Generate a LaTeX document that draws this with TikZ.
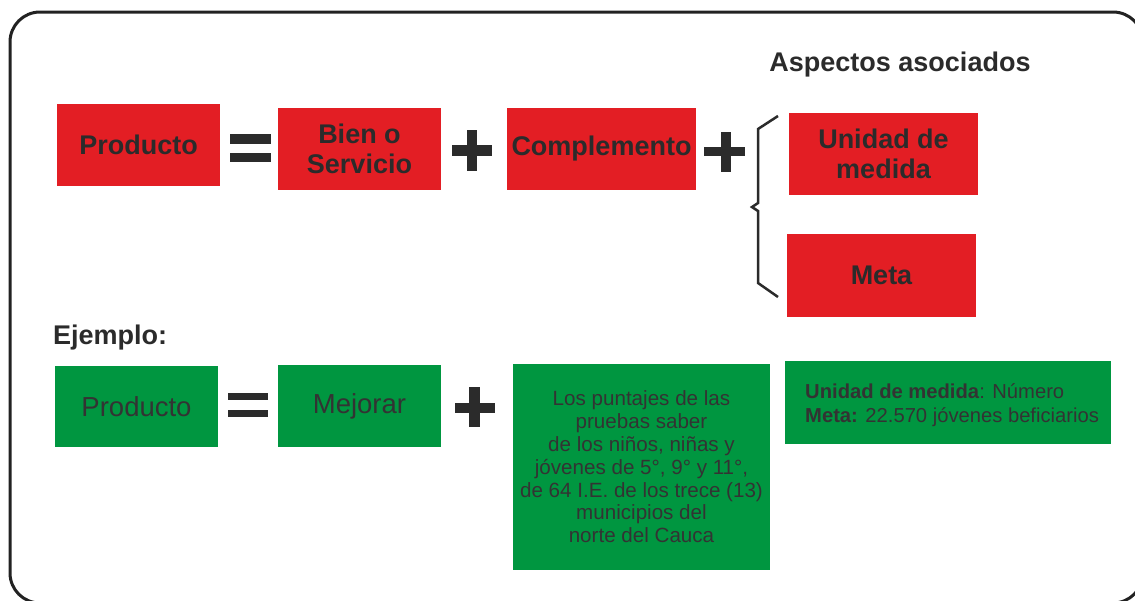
\documentclass[tikz,border=0pt]{standalone}
\usepackage{fontspec}
\setmainfont{Liberation Sans}
\definecolor{boxred}{HTML}{E31E24}
\definecolor{boxgreen}{HTML}{009640}
\definecolor{txt}{HTML}{2B2B2B}
\definecolor{gtxt}{HTML}{333333}
\definecolor{frame}{HTML}{222222}
\tikzset{
  redbox/.style={rectangle, fill=boxred, inner sep=0pt, align=center, text=txt,
    font=\bfseries\fontsize{27}{30}\selectfont},
  greenbox/.style={rectangle, fill=boxgreen, inner sep=0pt, align=center, text=gtxt,
    font=\fontsize{27.5}{30}\selectfont},
  sym/.style={fill=txt},
  label/.style={text=txt, inner sep=0pt, font=\bfseries\fontsize{27}{30}\selectfont}
}
\begin{document}
\begin{tikzpicture}[x=1pt,y=-1pt]
\useasboundingbox (0,0) rectangle (1135,600);
\fill[white] (0,0) rectangle (1135,600);
\begin{scope}
\clip (0,0) rectangle (1135,600);
\draw[frame, line width=3pt, rounded corners=30pt] (10,12) rectangle (1143,603);
\end{scope}

% top row
\node[redbox, minimum width=163pt, minimum height=82pt] (prod) at (138.5,145) {Producto};
\node[redbox, minimum width=163pt, minimum height=82pt] (bien) at (359.5,149) {Bien o\\Servicio};
\node[redbox, minimum width=189pt, minimum height=82pt] (comp) at (601.5,149) {Complemento};
\node[redbox, minimum width=189pt, minimum height=82pt] (unid) at (883.5,154) {Unidad de\\medida};
\node[redbox, minimum width=189pt, minimum height=83pt] (meta) at (881.5,275.5) {Meta};
\node[label] (asp) at (900,65) {Aspectos asociados};

% symbols top
\fill[sym] (230,134) rectangle (271,144);
\fill[sym] (230,153) rectangle (271,162);
\fill[sym] (467,130) rectangle (477,171);
\fill[sym] (452,145) rectangle (492,156);
\fill[sym] (721,132) rectangle (731,172);
\fill[sym] (704,147) rectangle (745,156);

% brace
\coordinate (bt) at (778,116);
\coordinate (bb) at (778,297);
\coordinate (bm) at (752,207);
\draw[txt, line width=2.5pt, line join=miter]
  (bt) -- (758,129) -- (758,203) -- (bm) -- (758,211) -- (758,283) -- (bb);

% example
\node[label, anchor=west] (ej) at (53,338) {Ejemplo:};
\node[greenbox, minimum width=163pt, minimum height=81pt] (gprod) at (136.5,406.5) {Producto};
\node[greenbox, minimum width=163pt, minimum height=82pt] (mej) at (359.5,406) {Mejorar};
\node[greenbox, minimum width=257pt, minimum height=206pt,
  font=\fontsize{20.6}{22.8}\selectfont] (big) at (641.5,467)
  {Los puntajes de las\\pruebas saber\\de los niños, niñas y\\jóvenes de 5°, 9° y 11°,\\de 64 I.E. de los trece (13)\\municipios del\\norte del Cauca};
\node[rectangle, fill=boxgreen, minimum width=326pt, minimum height=83pt, inner sep=0pt] (mbox) at (948,402.5) {};
\node[anchor=west, align=left, text=gtxt, inner sep=0pt, font=\fontsize{20.2}{24}\selectfont] (mtext) at (805,405)
  {\textbf{Unidad de medida}: Número\\\textbf{Meta:} 22.570 jóvenes beficiarios};

% symbols bottom
\fill[sym] (228,393) rectangle (268,400);
\fill[sym] (228,410) rectangle (268,417);
\fill[sym] (469,387) rectangle (480,427);
\fill[sym] (455,403) rectangle (495,413);
\end{tikzpicture}
\end{document}
